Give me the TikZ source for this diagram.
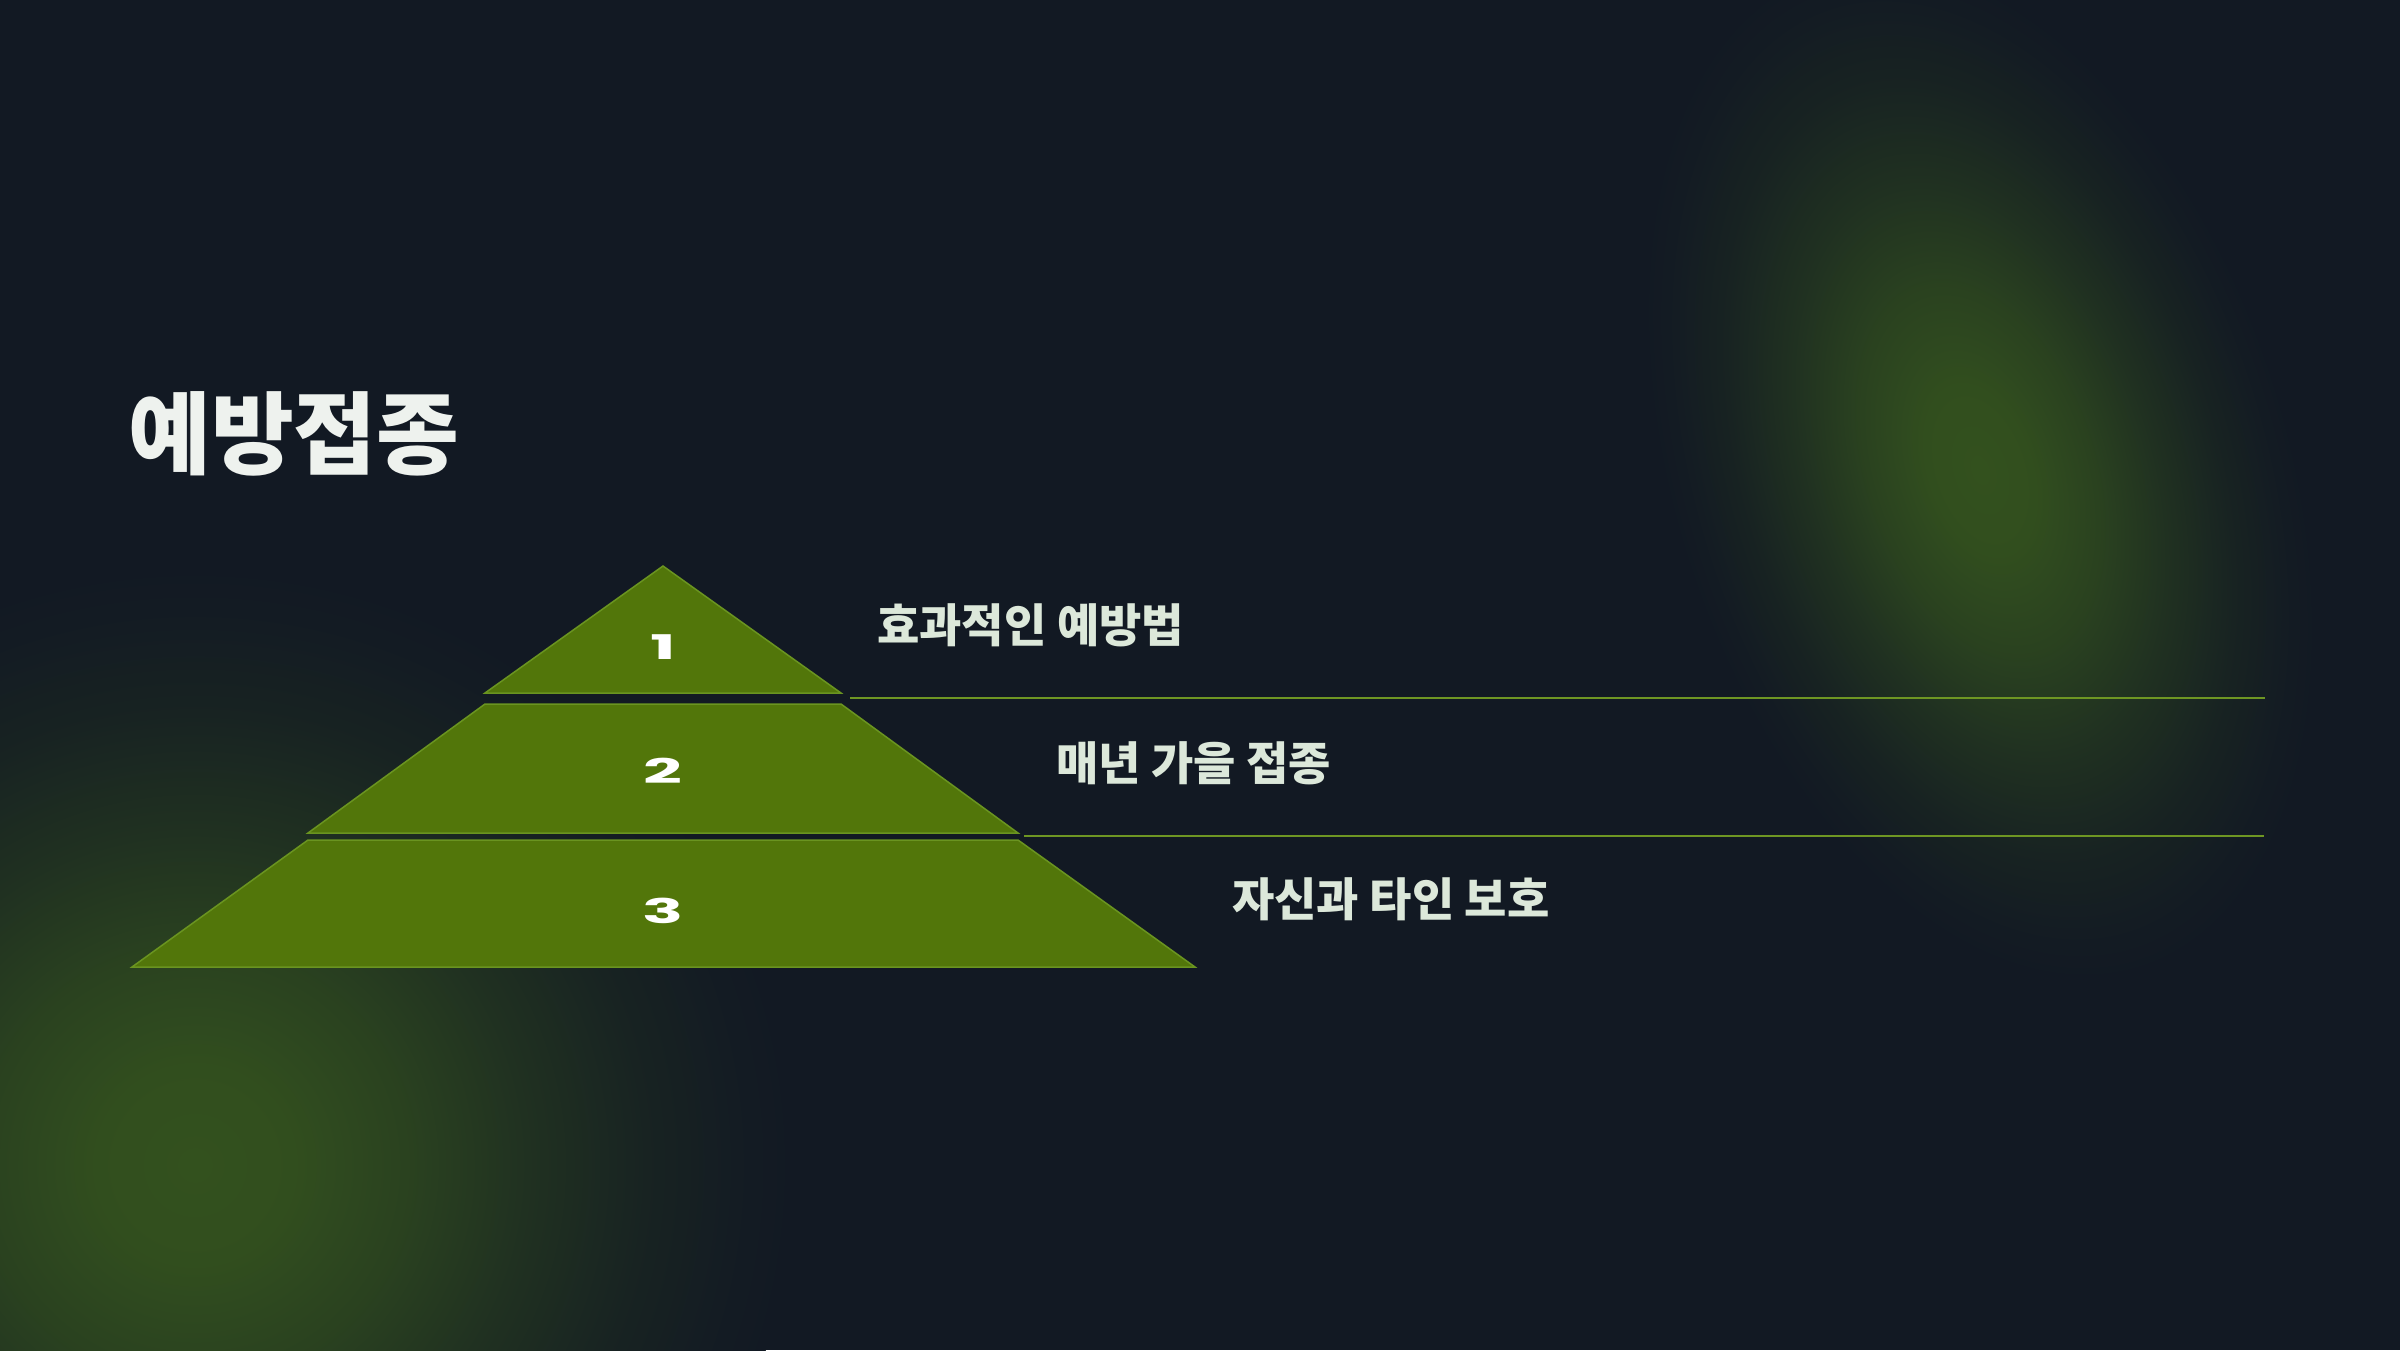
\documentclass[tikz,border=0pt]{standalone}
\usepackage{fontspec}
\newfontfamily\kr{Noto Sans CJK KR}
\newfontfamily\numf{Poppins}
\definecolor{bg}{HTML}{121923}
\definecolor{glowc}{HTML}{33511E}
\definecolor{tierfill}{HTML}{52760A}
\definecolor{tierline}{HTML}{6A9420}
\definecolor{sepline}{HTML}{6E9623}
\definecolor{titlec}{HTML}{EEF2EE}
\definecolor{labelc}{HTML}{DCE8DA}
\pgfdeclareradialshading{glowsh}{\pgfpoint{0bp}{0bp}}{color(0bp)=(glowc); color(4bp)=(glowc!95!bg); color(9bp)=(glowc!72!bg); color(14bp)=(glowc!42!bg); color(19bp)=(glowc!17!bg); color(23bp)=(glowc!4!bg); color(25bp)=(bg); color(50bp)=(bg)}
\tikzset{
  tier/.style={fill=tierfill, draw=tierline, line width=1.5pt, line join=miter},
  sep/.style={draw=sepline, line width=2pt},
  num/.style={text=white, inner sep=0pt, font=\numf\bfseries\fontsize{34}{34}\selectfont},
  lbl/.style={text=labelc, anchor=west, inner sep=0pt, font=\kr\bfseries\fontsize{46}{52}\selectfont},
  ttl/.style={text=titlec, anchor=west, inner sep=0pt, font=\kr\bfseries\fontsize{90}{110}\selectfont}
}
\begin{document}
\begin{tikzpicture}[x=1pt,y=-1pt]
\fill[bg] (0,0) rectangle (2400,1350);
\begin{scope}
\clip (0,0) rectangle (2400,1350);
\begin{scope}[transform canvas={rotate around={18:(1980,470)}}]
\shade[shading=glowsh] (1980,470) ellipse [x radius=310, y radius=530];
\end{scope}
\shade[shading=glowsh] (195,1165) ellipse [x radius=600, y radius=600];
\end{scope}
\useasboundingbox (0,0) rectangle (2400,1350);
% title
\node[ttl] (title) at (128,434) {예방접종};
% tiers
\draw[tier] (663,566) -- (841,693) -- (485,693) -- cycle;
\draw[tier] (485,704) -- (841,704) -- (1018,833) -- (308,833) -- cycle;
\draw[tier] (308,840) -- (1018,840) -- (1195,967) -- (132,967) -- cycle;
\node[num] (n1) at (663,647) {\scalebox{2.0}[1]{1}};
\node[num] (n2) at (663,771) {\scalebox{2.0}[1]{2}};
\node[num] (n3) at (663,911) {\scalebox{2.0}[1]{3}};
% separators
\coordinate (s1a) at (850,698);
\coordinate (s1b) at (2265,698);
\coordinate (s2a) at (1024,836);
\coordinate (s2b) at (2264,836);
\draw[sep] (s1a) -- (s1b);
\draw[sep] (s2a) -- (s2b);
% labels
\node[lbl] (l1) at (877,625) {효과적인 예방법};
\node[lbl] (l2) at (1056,763) {매년 가을 접종};
\node[lbl] (l3) at (1232,899) {자신과 타인 보호};
\end{tikzpicture}
\end{document}
